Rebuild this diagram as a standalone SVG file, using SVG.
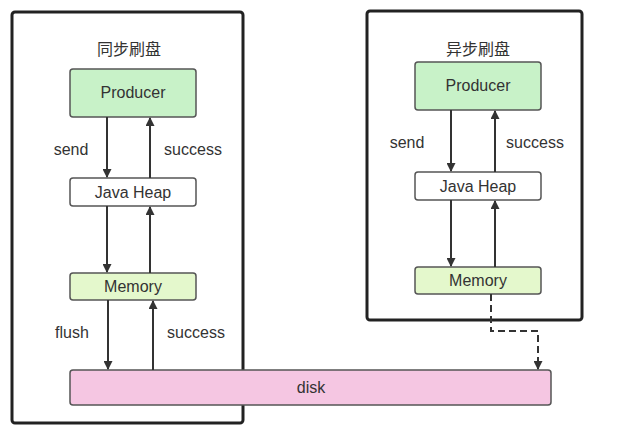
<svg xmlns="http://www.w3.org/2000/svg" width="622" height="430" viewBox="0 0 622 430">
<style>
text{font-family:"Liberation Sans","Noto Sans CJK SC",sans-serif;font-size:16px;fill:#333;text-anchor:middle}
.frame{fill:#fff;stroke:#222;stroke-width:3}
.n{stroke:#555;stroke-width:1.5}
.c{stroke:#333;stroke-width:2;fill:none;marker-end:url(#a)}
</style>
<defs><marker id="a" viewBox="0 0 10 10" refX="9" refY="5" markerWidth="14" markerHeight="9" orient="auto" markerUnits="userSpaceOnUse"><path d="M0,0L10,5L0,10z" fill="#333"/></marker></defs>
<rect width="622" height="430" fill="#fff"/>
<g id="sync"><rect class="frame" x="12" y="12" width="231" height="411" rx="3"/><text x="129" y="55">同步刷盘</text></g>
<g id="async"><rect class="frame" x="367" y="11" width="215" height="309" rx="3"/><text x="478" y="55">异步刷盘</text></g>
<g id="disk"><rect class="n" x="70" y="370" width="481" height="35" rx="3" fill="#f5c6e2"/><text x="311" y="393">disk</text></g>
<g id="p1"><rect class="n" x="70" y="69" width="126" height="48" rx="3" fill="#c8f2c8"/><text x="133" y="98">Producer</text></g>
<g id="h1"><rect class="n" x="70" y="178" width="126" height="28" rx="3" fill="#fff"/><text x="133" y="198">Java Heap</text></g>
<g id="m1"><rect class="n" x="70" y="273" width="126" height="27" rx="3" fill="#e4f8cc"/><text x="133" y="292">Memory</text></g>
<g id="p2"><rect class="n" x="415" y="62" width="126" height="48" rx="3" fill="#c8f2c8"/><text x="478" y="91">Producer</text></g>
<g id="h2"><rect class="n" x="415" y="172" width="126" height="28" rx="3" fill="#fff"/><text x="478" y="192">Java Heap</text></g>
<g id="m2"><rect class="n" x="415" y="267" width="126" height="27" rx="3" fill="#e4f8cc"/><text x="478" y="286">Memory</text></g>
<g id="connectors">
<path class="c" d="M107,117V177"/><path class="c" d="M150,178V118"/>
<path class="c" d="M107,206V272"/><path class="c" d="M150,273V207"/>
<path class="c" d="M108,300V369"/><path class="c" d="M153,370V301"/>
<path class="c" d="M451,110V171"/><path class="c" d="M495,172V111"/>
<path class="c" d="M451,200V266"/><path class="c" d="M495,267V201"/>
<path class="c" d="M491,294V331H538V369" stroke-dasharray="7,4"/>
</g>
<g id="labels">
<text x="71" y="155">send</text><text x="193" y="155">success</text>
<text x="72" y="338">flush</text><text x="196" y="338">success</text>
<text x="407" y="148">send</text><text x="535" y="148">success</text>
</g>
</svg>
